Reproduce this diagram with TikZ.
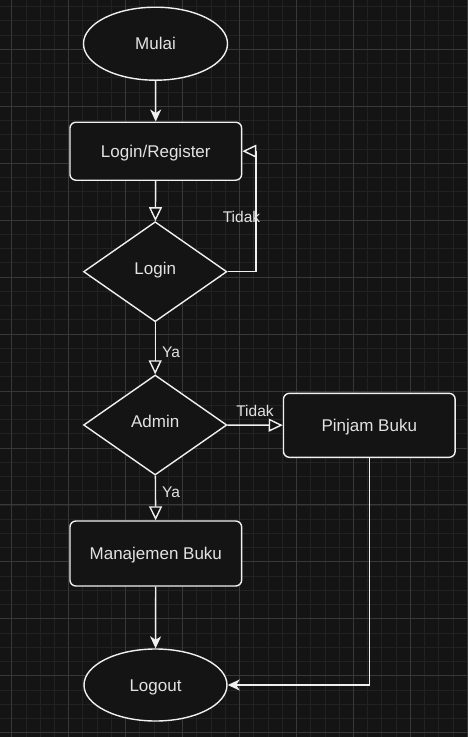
\documentclass[tikz,border=0pt]{standalone}
\usepackage{fontspec}
\setmainfont{Liberation Sans}
\usetikzlibrary{arrows.meta,shapes.geometric}
\definecolor{bg}{HTML}{141414}
\definecolor{gridminor}{HTML}{222222}
\definecolor{gridmajor}{HTML}{383838}
\definecolor{ln}{HTML}{F0F0F0}
\definecolor{txt}{HTML}{E2E2E2}
\begin{document}
\begin{tikzpicture}[x=1pt,y=-1pt,
  base/.style={draw=ln, line width=1.4pt, fill=bg, text=txt, inner sep=0pt, text height=12.2pt, text depth=0pt, font=\fontsize{17}{20}\selectfont},
  term/.style={base, ellipse, minimum width=144pt, minimum height=73pt},
  proc/.style={base, rectangle, rounded corners=6pt, minimum width=171.7pt, minimum height=58pt},
  dec/.style={base, diamond, text depth=7pt, minimum width=143.3pt, minimum height=100pt},
  conn/.style={draw=ln, line width=1.4pt},
  cls/.style={conn, -{Stealth[length=12pt,width=11pt,inset=3.5pt]}},
  opn/.style={conn, -{Triangle[open,length=14pt,width=13pt,fill=bg]}},
  lbl/.style={text=txt, inner sep=0pt, font=\fontsize{15.5}{18}\selectfont}]
\fill[bg] (0,0) rectangle (468,737);
\useasboundingbox (0,0) rectangle (468,737);
\foreach \i in {-1,...,33} {
  \draw[gridminor, line width=0.8pt] ({11.7+\i*14.2375},0) -- ({11.7+\i*14.2375},737);
}
\foreach \i in {-4,...,49} {
  \draw[gridminor, line width=0.8pt] (0,{49.3+\i*14.2375}) -- (468,{49.3+\i*14.2375});
}
\foreach \i in {0,...,8} {
  \draw[gridmajor, line width=0.9pt] ({11.7+\i*56.95},0) -- ({11.7+\i*56.95},737);
}
\foreach \i in {-1,...,12} {
  \draw[gridmajor, line width=0.9pt] (0,{49.3+\i*56.95}) -- (468,{49.3+\i*56.95});
}
\node[term] (mulai) at (155.5,43.7) {Mulai};
\node[proc] (logreg) at (155.8,151.2) {Login/Register};
\node[dec] (login) at (155.2,271.7) {Login};
\node[dec] (admin) at (155.2,425) {Admin};
\node[proc, minimum height=64pt] (pinjam) at (369.3,425.3) {Pinjam Buku};
\node[proc, minimum height=65pt] (manaj) at (155.8,553.5) {Manajemen Buku};
\node[term, minimum width=143pt, minimum height=72pt] (logout) at (155.5,685) {Logout};
\draw[cls] (mulai) -- (logreg);
\draw[opn] (logreg) -- (login);
\draw[opn] (login.east) -- ++(28.5,0) |- (logreg.east);
\node[lbl] (t1) at (241.5,217) {Tidak};
\draw[opn] (login) -- (admin);
\node[lbl, anchor=west] (y1) at (162,352) {Ya};
\draw[opn] (admin) -- (pinjam);
\node[lbl] (t2) at (255,411) {Tidak};
\draw[opn] (admin) -- (manaj);
\node[lbl, anchor=west] (y2) at (162,492) {Ya};
\draw[cls] (manaj) -- (logout);
\draw[cls] (pinjam.south) |- (logout.east);
\end{tikzpicture}
\end{document}
